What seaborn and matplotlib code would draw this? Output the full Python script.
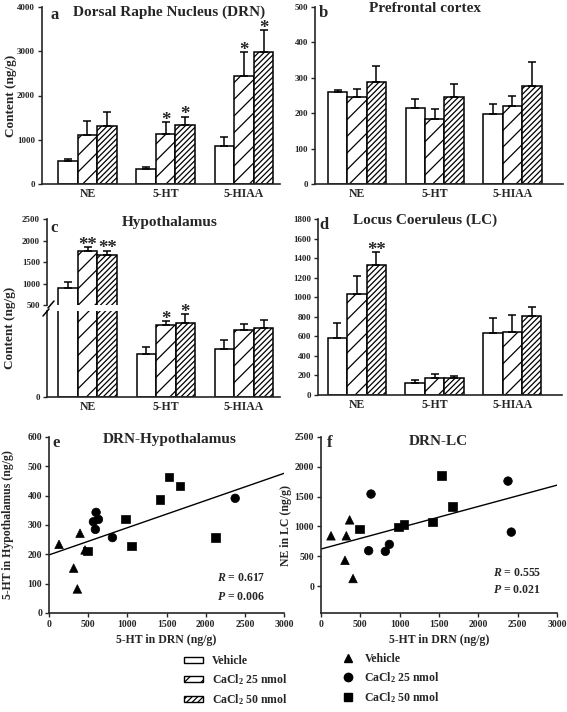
import matplotlib
matplotlib.use("Agg")
import matplotlib.pyplot as plt
from matplotlib.patches import Patch
from matplotlib.lines import Line2D
from matplotlib.container import BarContainer
import seaborn as sns
import pandas as pd

# ---- data ----
analytes = ["NE", "5-HT", "5-HIAA"]
groups = ["Vehicle", "CaCl2 25 nmol", "CaCl2 50 nmol"]

# rows = groups, columns = analytes
drn_mean = [[525, 338, 848], [1110, 1126, 2439], [1313, 1328, 2987]]
drn_err = [[38, 45, 210], [316, 277, 533], [323, 195, 488]]
pfc_mean = [[259, 216, 199], [247, 184, 220], [289, 247, 278]]
pfc_err = [[6, 25, 26], [20, 27, 29], [44, 35, 66]]
hyp_mean = [[890, 190, 212], [1752, 318, 295], [1657, 329, 307]]
hyp_err = [[141, 32, 39], [91, 18, 27], [107, 36, 32]]
lc_mean = [[581, 126, 632], [1031, 171, 649], [1328, 174, 813]]
lc_err = [[153, 28, 160], [181, 41, 171], [137, 21, 92]]

# (analyte index, group index, mark)
drn_stars = [(1, 1, "*"), (1, 2, "*"), (2, 1, "*"), (2, 2, "*")]
hyp_stars = [(0, 1, "**"), (0, 2, "**"), (1, 1, "*"), (1, 2, "*")]
lc_stars = [(0, 2, "**")]

# scatter: 5-HT in DRN vs 5-HT in hypothalamus
e_veh_x = [128, 396, 315, 362, 460]
e_veh_y = [234, 272, 153, 82, 215]
e_25_x = [601, 567, 631, 592, 810, 2377]
e_25_y = [343, 311, 319, 285, 257, 391]
e_50_x = [490, 980, 1052, 1415, 1530, 1670, 2122]
e_50_y = [212, 320, 229, 386, 464, 433, 257]
e_fit = (198, 0.0927)

# scatter: 5-HT in DRN vs NE in LC
f_veh_x = [127, 322, 364, 305, 407]
f_veh_y = [844, 844, 1111, 433, 128]
f_25_x = [636, 606, 818, 869, 2377, 2419]
f_25_y = [1544, 594, 583, 700, 1761, 906]
f_50_x = [492, 987, 1055, 1419, 1530, 1674]
f_50_y = [961, 989, 1033, 1078, 1850, 1333]
f_fit = (622, 0.357)

hatches = ["", "//", "//////"]
markers = ["^", "o", "s"]

# ---- style ----
sns.set_theme(style="ticks")
plt.rcParams["font.family"] = ["Liberation Serif", "DejaVu Serif"]
plt.rcParams["font.weight"] = "bold"
plt.rcParams["axes.labelweight"] = "bold"
plt.rcParams["axes.linewidth"] = 1.2
plt.rcParams["hatch.linewidth"] = 0.9
plt.rcParams["hatch.color"] = "black"
plt.rcParams["mathtext.fontset"] = "custom"
plt.rcParams["mathtext.rm"] = "Liberation Serif:bold"
plt.rcParams["mathtext.bf"] = "Liberation Serif:bold"
plt.rcParams["mathtext.it"] = "Liberation Serif:italic:bold"

W, H = 567, 712
fig = plt.figure(figsize=(W / 100, H / 100), dpi=100)


def box(x0, y0, x1, y1):
    # pixel box -> figure fraction rect
    return [x0 / W, 1 - y1 / H, (x1 - x0) / W, (y1 - y0) / H]


def to_long(mean, err):
    rows = []
    for gi, g in enumerate(groups):
        for ai, a in enumerate(analytes):
            rows.append({"analyte": a, "group": g, "value": mean[gi][ai], "err": err[gi][ai]})
    return pd.DataFrame(rows)


def bar_containers(ax):
    return [c for c in ax.containers if isinstance(c, BarContainer)]


def bars(ax, mean, err):
    df = to_long(mean, err)
    sns.barplot(data=df, x="analyte", y="value", hue="group", order=analytes,
                hue_order=groups, palette=["white"] * 3, saturation=1, width=0.75,
                edgecolor="black", linewidth=1.1, errorbar=None, legend=False, ax=ax)
    for gi, cont in enumerate(bar_containers(ax)):
        for ai, bar in enumerate(cont):
            bar.set_hatch(hatches[gi])
            bar.set_edgecolor("black")
            xc = bar.get_x() + bar.get_width() / 2
            ax.errorbar(xc, bar.get_height(), yerr=[[0], [err[gi][ai]]], fmt="none",
                        ecolor="black", elinewidth=1.1, capsize=3, capthick=1.1, zorder=1)
    ax.set_xlabel("")
    ax.set_ylabel("")
    ax.tick_params(axis="x", length=0, labelsize=8.5, pad=3)
    ax.tick_params(axis="y", length=3, width=1, labelsize=6.5, pad=2)
    sns.despine(ax=ax)


def stars(ax, mean, err, marks):
    conts = bar_containers(ax)
    for ai, gi, s in marks:
        bar = conts[gi][ai]
        xc = bar.get_x() + bar.get_width() / 2
        ax.annotate(s, xy=(xc, mean[gi][ai] + err[gi][ai]), xytext=(0, -2),
                    textcoords="offset points", ha="center", va="baseline",
                    fontsize=13.5, fontweight="bold")


def label(ax, x, y, text, size=11, ha="center"):
    ax.text(x, y, text, transform=ax.transAxes, ha=ha, va="center",
            fontsize=size, fontweight="bold")


def ylabel_at(ax, text, xpix, size):
    # xpix: figure pixel column of the label's right (baseline-side) edge
    x0 = ax.get_position().x0 * W
    w = ax.get_position().width * W
    ax.set_ylabel(text, fontsize=size)
    ax.yaxis.set_label_coords((xpix - x0) / w, 0.5)


# ---- a: DRN ----
ax_a = fig.add_axes(box(42, 7, 280, 184))
bars(ax_a, drn_mean, drn_err)
ax_a.set_ylim(0, 4000)
ax_a.set_yticks([0, 1000, 2000, 3000, 4000])
ax_a.set_xlim(-0.58, 2.46)
stars(ax_a, drn_mean, drn_err, drn_stars)
ylabel_at(ax_a, "Content (ng/g)", 17, 9.5)
label(ax_a, 0.534, 0.972, "Dorsal Raphe Nucleus (DRN)")
label(ax_a, 0.055, 0.955, "a", size=12)

# ---- b: prefrontal cortex ----
ax_b = fig.add_axes(box(315, 7, 563, 184))
bars(ax_b, pfc_mean, pfc_err)
ax_b.set_ylim(0, 500)
ax_b.set_yticks([0, 100, 200, 300, 400, 500])
ax_b.set_xlim(-0.54, 2.65)
label(ax_b, 0.444, 0.99, "Prefrontal cortex")
label(ax_b, 0.032, 0.966, "b", size=12)

# ---- c: hypothalamus (broken axis) ----
ax_ct = fig.add_axes(box(47, 219, 280, 305))
ax_cb = fig.add_axes(box(47, 311, 280, 397))
for ax in (ax_ct, ax_cb):
    bars(ax, hyp_mean, hyp_err)
    ax.set_xlim(-0.52, 2.46)
ax_ct.set_ylim(500, 2500)
ax_ct.set_yticks([500, 1000, 1500, 2000, 2500])
ax_ct.spines["bottom"].set_visible(False)
ax_ct.tick_params(axis="x", labelbottom=False)
ax_cb.set_ylim(0, 380)
ax_cb.set_yticks([0])
for ai, gi, s in hyp_stars:
    top = hyp_mean[gi][ai] + hyp_err[gi][ai]
    stars(ax_ct if top > 500 else ax_cb, hyp_mean, hyp_err, [(ai, gi, s)])
for (x0, y0, x1, y1) in [(48, 308, 54, 301), (43, 316, 49, 309)]:
    fig.add_artist(Line2D([x0 / W, x1 / W], [1 - y0 / H, 1 - y1 / H], color="black", lw=1.1))
fig.text(10 / W, 1 - 328 / H, "Content (ng/g)", rotation=90, ha="center", va="center",
         fontsize=9.5, fontweight="bold")
label(ax_ct, 0.528, 0.965, "Hypothalamus")
label(ax_ct, 0.03, 0.895, "c", size=12)

# ---- d: locus coeruleus ----
ax_d = fig.add_axes(box(318, 219, 562, 395))
bars(ax_d, lc_mean, lc_err)
ax_d.set_ylim(0, 1800)
ax_d.set_yticks(range(0, 1801, 200))
ax_d.set_xlim(-0.5, 2.64)
stars(ax_d, lc_mean, lc_err, lc_stars)
label(ax_d, 0.439, 0.995, "Locus Coeruleus (LC)")
label(ax_d, 0.025, 0.966, "d", size=12)


# ---- scatter panels ----
def scatter(ax, xs, ys, fit, ylim, yticks, ylab, ylab_x):
    rows = []
    for g, x, y in zip(groups, xs, ys):
        rows += [{"drn": a, "y": b, "group": g} for a, b in zip(x, y)]
    df = pd.DataFrame(rows)
    sns.scatterplot(data=df, x="drn", y="y", style="group", style_order=groups,
                    markers=dict(zip(groups, markers)), color="black", s=38,
                    edgecolor="black", legend=False, ax=ax, zorder=3)
    ax.plot([0, 3000], [fit[0], fit[0] + fit[1] * 3000], color="black", lw=1)
    ax.set_xlim(0, 3000)
    ax.set_xticks(range(0, 3001, 500))
    ax.set_ylim(*ylim)
    ax.set_yticks(yticks)
    ax.tick_params(length=3, width=1, labelsize=7, pad=2)
    ax.set_xlabel("5-HT in DRN (ng/g)", fontsize=8.5, labelpad=4)
    ylabel_at(ax, ylab, ylab_x, 8.5)
    sns.despine(ax=ax)


ax_e = fig.add_axes(box(49, 437, 284, 613))
scatter(ax_e, [e_veh_x, e_25_x, e_50_x], [e_veh_y, e_25_y, e_50_y], e_fit,
        (0, 600), range(0, 601, 100), "5-HT in Hypothalamus (ng/g)", 14)
label(ax_e, 0.515, 0.983, "DRN-Hypothalamus")
label(ax_e, 0.03, 0.966, "e", size=12)
label(ax_e, 0.715, 0.199, "$R$ = 0.617", size=8.5, ha="left")
label(ax_e, 0.715, 0.091, "$P$ = 0.006", size=8.5, ha="left")

ax_f = fig.add_axes(box(321, 437, 557, 613))
scatter(ax_f, [f_veh_x, f_25_x, f_50_x], [f_veh_y, f_25_y, f_50_y], f_fit,
        (-450, 2500), range(0, 2501, 500), "NE in LC (ng/g)", 292)
label(ax_f, 0.496, 0.977, "DRN-LC")
label(ax_f, 0.035, 0.966, "f", size=12)
label(ax_f, 0.729, 0.227, "$R$ = 0.555", size=8.5, ha="left")
label(ax_f, 0.729, 0.13, "$P$ = 0.021", size=8.5, ha="left")

# ---- legends ----
leg_names = ["Vehicle", "CaCl$_2$ 25 nmol", "CaCl$_2$ 50 nmol"]
bar_handles = [Patch(facecolor="white", edgecolor="black", hatch=h, lw=1) for h in hatches]
fig.legend(bar_handles, leg_names, loc="upper left", bbox_to_anchor=(184 / W, 1 - 655 / H),
           frameon=False, fontsize=8.5, handlelength=1.6, handleheight=0.45,
           labelspacing=0.45, handletextpad=0.8, borderpad=0, borderaxespad=0)
pt_handles = [Line2D([], [], marker=m, color="black", ls="none", markersize=6) for m in markers]
fig.legend(pt_handles, leg_names, loc="upper left", bbox_to_anchor=(342 / W, 1 - 653 / H),
           frameon=False, fontsize=8.5, handlelength=1.0, labelspacing=0.45,
           handletextpad=0.9, borderpad=0, borderaxespad=0)

plt.savefig("out.png", dpi=100)
